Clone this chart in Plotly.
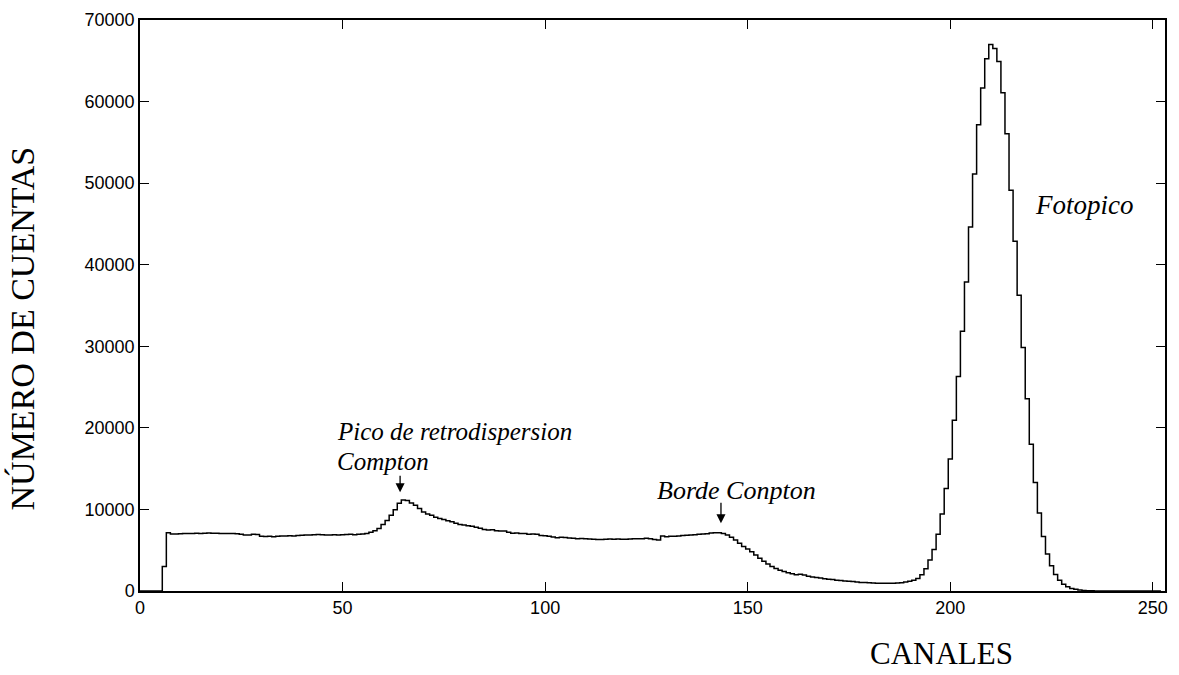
import plotly.graph_objects as go

# Gamma spectrum: counts per channel (channels 0..252)
channels = list(range(253))

counts_low = [0, 0, 0, 0, 0, 0, 3000,
              7150, 6980, 7000, 7020, 7050, 7050, 7060, 7080, 7060, 7080, 7100, 7080, 7070, 7060, 7060, 7050, 7040, 7020,
              6950, 6870, 6870, 6950, 6920, 6700, 6680, 6700, 6650, 6720, 6750, 6730, 6760, 6750, 6800, 6820, 6850, 6880, 6900, 6920,
              6900, 6850, 6880, 6900, 6870, 6900, 6920, 6950, 6900, 6950, 7000]

counts_backscatter = [7050, 7200, 7400, 7670, 8150, 8640, 9280, 9960, 10760, 11150, 11100, 10800, 10500, 10100,
                      9700, 9440, 9300, 9050, 8900, 8760, 8600, 8500, 8300, 8150, 8100, 8000, 7950, 7800]

counts_plateau = [7700, 7550, 7470, 7500, 7400, 7350, 7350, 7200, 7070, 7100, 7050, 7050, 6950, 7000, 6950, 6800,
                  6780, 6700, 6620, 6540, 6600, 6560, 6500, 6480, 6420, 6430, 6400, 6380, 6350, 6320, 6300, 6350,
                  6370, 6350, 6360, 6350, 6350, 6380, 6400]

counts_edge = [6400, 6420, 6470, 6400, 6300, 6250, 6750, 6650, 6700, 6720, 6750, 6800, 6820, 6870, 6900, 6950,
               6980, 7030, 7100, 7150, 7150, 7050, 6870, 6600, 6250, 5850, 5450, 5150, 4800, 4400, 4000, 3650,
               3300, 3000, 2750, 2550, 2380, 2250, 2130, 2000]

counts_valley = [2050, 1950, 1820, 1720, 1650, 1580, 1500, 1450, 1400, 1330, 1280, 1240, 1200, 1150, 1100, 1050,
                 1030, 1000, 980, 960, 950, 950, 950, 960, 980, 1020, 1100, 1200, 1330, 1530]

counts_photopeak = [2000, 2730, 3810, 5100, 6950, 9440, 12570, 16180, 20920, 26300, 31850, 37870, 44620, 51120,
                    57150, 61650, 65260, 66990, 66500, 64900, 61080, 56060, 49120, 42890, 36270, 29840, 23580,
                    17990, 13290, 9560, 6670, 4540, 3100, 2010, 1330, 840, 520, 320, 200, 120, 70, 40]

counts_tail = [25, 15, 10, 5, 0, 0, 0, 0, 0, 0, 0, 0, 0, 0, 0, 0, 0, 0]

counts = (counts_low + counts_backscatter + counts_plateau + counts_edge
          + counts_valley + counts_photopeak + counts_tail)

x_ticks = [0, 50, 100, 150, 200, 250]
y_ticks = [0, 10000, 20000, 30000, 40000, 50000, 60000, 70000]

serif = "Liberation Serif, Times New Roman, serif"
sans = "Liberation Sans, Arial, sans-serif"

fig = go.Figure()
fig.add_trace(go.Scatter(
    x=channels, y=counts, mode="lines", line_shape="hvh",
    line=dict(color="black", width=1.5), showlegend=False, hoverinfo="skip",
))

axis_common = dict(
    showline=True, linecolor="black", linewidth=1.5, mirror="ticks",
    ticks="inside", ticklen=9, tickwidth=1.3, tickcolor="black",
    showgrid=False, zeroline=False,
    tickfont=dict(family=sans, size=18, color="black"),
)

fig.update_layout(
    width=1179, height=675,
    margin=dict(l=140, r=14, t=10, b=84),
    paper_bgcolor="white", plot_bgcolor="white",
    xaxis=dict(range=[0, 253], tickvals=x_ticks, ticktext=[str(v) for v in x_ticks], **axis_common),
    yaxis=dict(range=[0, 70000], tickvals=y_ticks, ticktext=[str(v) for v in y_ticks], **axis_common),
)

# Axis titles
fig.add_annotation(text="NÚMERO DE CUENTAS", xref="paper", yref="paper", x=-0.115, y=0.46,
                   textangle=-90, showarrow=False, xanchor="center", yanchor="middle",
                   font=dict(family=serif, size=34, color="black"))
fig.add_annotation(text="CANALES", xref="paper", yref="paper", x=0.782, y=-0.11,
                   showarrow=False, xanchor="center", yanchor="middle",
                   font=dict(family=serif, size=31, color="black"))

# Spectrum feature labels
label_font = dict(family=serif, size=25, color="black")
fig.add_annotation(text="<i>Pico de retrodispersion</i>", x=48.1, y=19500, xanchor="left", yanchor="middle",
                   showarrow=False, font=label_font)
fig.add_annotation(text="<i>Compton</i>", x=48.1, y=15900, xanchor="left", yanchor="middle",
                   showarrow=False, font=label_font)
fig.add_annotation(text="<i>Borde Conpton</i>", x=127.1, y=12300, xanchor="left", yanchor="middle",
                   showarrow=False, font=dict(family=serif, size=26, color="black"))
fig.add_annotation(text="<i>Fotopico</i>", x=220.4, y=47300, xanchor="left", yanchor="middle",
                   showarrow=False, font=dict(family=serif, size=27, color="black"))

# Arrows pointing at the backscatter peak and the Compton edge
for tip_x, tip_y, tail_y in [(64.2, 12100, 14300), (143.4, 8300, 11000)]:
    fig.add_annotation(x=tip_x, y=tip_y, ax=tip_x, ay=tail_y, axref="x", ayref="y",
                       text="", showarrow=True, arrowhead=2, arrowsize=1.4, arrowwidth=1.3,
                       arrowcolor="black")

fig.write_html("out.html")
